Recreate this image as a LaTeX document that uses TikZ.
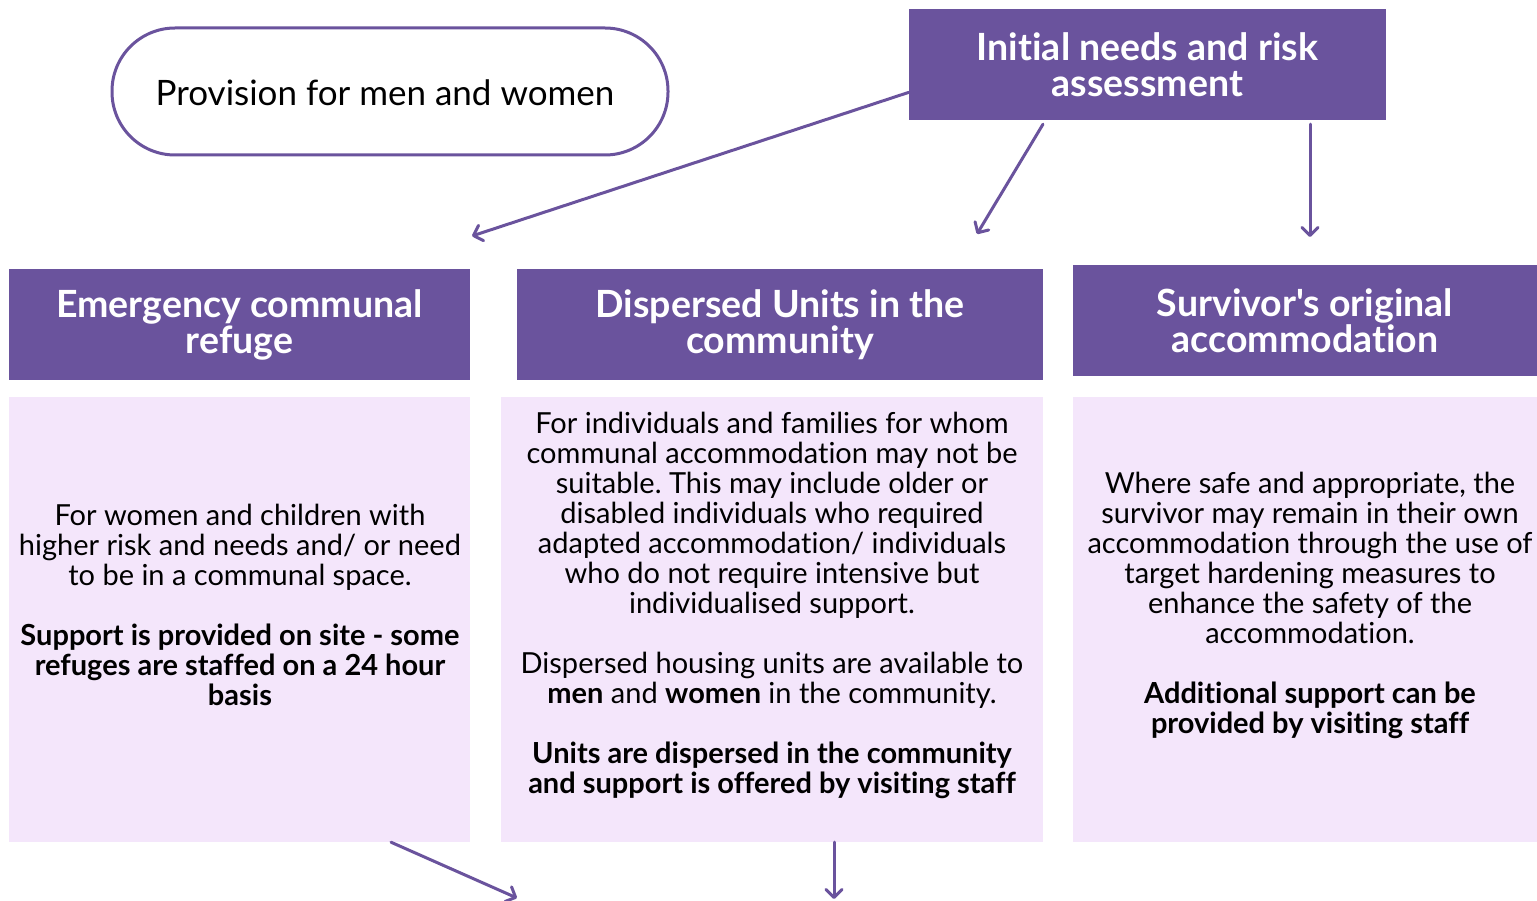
\documentclass[tikz,border=0pt]{standalone}
\usepackage{fontspec}
\setmainfont{Lato}[Ligatures=NoCommon]
\usetikzlibrary{arrows.meta,calc}
\definecolor{hdr}{HTML}{6A539D}
\definecolor{bodyfill}{HTML}{F4E6FB}
\frenchspacing
\tikzset{
  hdrbox/.style={fill=hdr, text=white, align=center, inner sep=0pt,
    font=\fontsize{37.5}{36}\selectfont\bfseries},
  bodybox/.style={fill=bodyfill, inner sep=0pt},
  bodytext/.style={align=center, inner sep=0pt, text=black,
    font=\fontsize{29}{30}\selectfont},
  arr/.style={draw=hdr, line width=3pt, line cap=round,
    -{Straight Barb[length=8pt,width=16pt,line cap=round,line join=round]}},
}
\begin{document}
\frenchspacing
\begin{tikzpicture}[x=1pt,y=-1pt]
\useasboundingbox (0,0) rectangle (1537,901);

% pill
\node[draw=hdr, line width=3pt, rounded corners=63pt, minimum width=556pt,
  minimum height=127pt, inner sep=0pt] (pill) at (390,91.5) {};
\node[font=\fontsize{35}{36}\selectfont, inner sep=0pt] (pilltext) at (385,93)
  {Provision for men and women};

% headers
\node[hdrbox, minimum width=477pt, minimum height=111pt] (init) at (1147.5,64.5)
  {Initial needs and risk\\assessment};
\node[hdrbox, minimum width=461pt, minimum height=111pt] (emerg) at (239.5,324.5)
  {Emergency communal\\refuge};
\node[hdrbox, minimum width=526pt, minimum height=111pt] (disp) at (780,324.5)
  {Dispersed Units in the\\community};
\node[hdrbox, minimum width=464pt, minimum height=111pt] (surv) at (1305,320.5)
  {\addfontfeature{Ligatures=TeXOff}Survivor's original\\accommodation};

% bodies
\node[bodybox, minimum width=461pt, minimum height=445pt] (b1) at (239.5,619.5) {};
\node[bodybox, minimum width=542pt, minimum height=445pt] (b2) at (772,619.5) {};
\node[bodybox, minimum width=464pt, minimum height=445pt] (b3) at (1305,619.5) {};

\node[bodytext] (t1) at (240,605)
  {For women and children with\\higher risk and needs and/ or need\\to be in a communal space.\\[30pt]
   \bfseries Support is provided on site - some\\\bfseries refuges are staffed on a 24 hour\\\bfseries basis};
\node[bodytext] (t2) at (772,605)
  {For individuals and families for whom\\communal accommodation may not be\\suitable. This may include older or\\disabled individuals who required\\adapted accommodation/ individuals\\who do not require intensive but\\individualised support.\\[30pt]
   Dispersed housing units are available to\\\textbf{men} and \textbf{women} in the community.\\[30pt]
   \bfseries Units are dispersed in the community\\\bfseries and support is offered by visiting staff};
\node[bodytext] (t3) at (1310,605)
  {Where safe and appropriate, the\\survivor may remain in their own\\accommodation through the use of\\target hardening measures to\\enhance the safety of the\\accommodation.\\[30pt]
   \bfseries Additional support can be\\\bfseries provided by visiting staff};

% arrow ends
\coordinate (e1) at (472,236);
\coordinate (e2) at (977,234);
\coordinate (e3) at (1310,237);
\coordinate (e4) at (517,898);
\coordinate (e5) at (834,899);

\draw[arr] ($(init.south west)!0.25!(init.north west)$) -- (e1);
\draw[arr] ([xshift=-104.5pt,yshift=-4pt]init.south) -- (e2);
\draw[arr] ([xshift=162.5pt,yshift=-4pt]init.south) -- (e3);
\draw[arr] ([xshift=151.5pt]b1.south) -- (e4);
\draw[arr] ([xshift=62pt]b2.south) -- (e5);
\end{tikzpicture}
\end{document}
